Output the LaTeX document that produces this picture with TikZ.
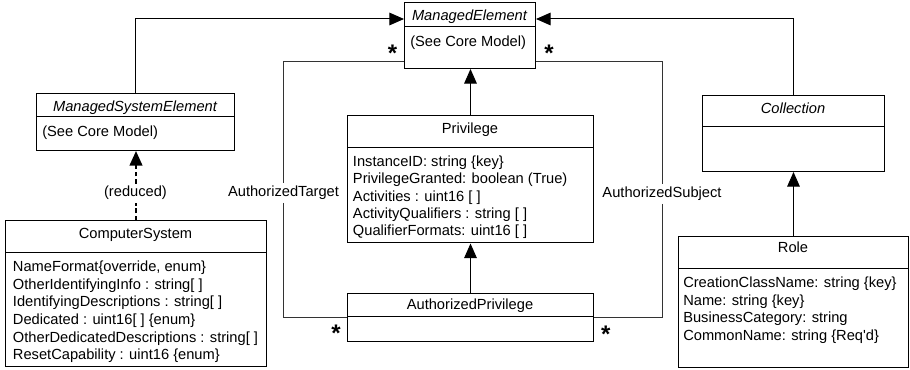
\documentclass[tikz,border=0pt]{standalone}
\usepackage{fontspec}
\setmainfont{Liberation Sans}
\usetikzlibrary{arrows.meta}

% horizontal rule across a class box, #2 pixels below its top edge
\newcommand\clsrule[2]{\draw[line width=0.75pt] ([yshift={-#2*0.75pt}]#1.north west) -- ([yshift={-#2*0.75pt}]#1.north east);}

\begin{document}
\begin{tikzpicture}[x=0.75pt, y=-0.75pt,
  every node/.style={font=\fontsize{11}{13.2}\selectfont},
  cls/.style 2 args={draw, line width=0.75pt, anchor=north west, inner sep=0pt,
    minimum width={#1*0.75pt}, minimum height={#2*0.75pt}},
  ttl/.style={anchor=base, inner sep=0pt},
  ttli/.style={anchor=base, inner sep=0pt, font=\fontsize{11}{13.2}\selectfont\itshape},
  attr/.style={anchor=base west, inner sep=0pt},
  gen/.style={line width=0.75pt, -{Triangle[length=11pt,width=9.5pt]}},
  dep/.style={line width=1.6pt, dash pattern=on 3.5pt off 2pt, -{Triangle[length=11pt,width=9.5pt]}},
  assoc/.style={line width=0.75pt, draw=black!80},
  lbl/.style={anchor=base, fill=white, inner sep=2pt},
  mult/.style={font=\fontsize{18}{18}\selectfont\bfseries, inner sep=0pt, anchor=north}
]
\useasboundingbox (0,0) rectangle (910,370);

% class boxes
\node[cls={131}{66}]  (me)   at (404,2) {};
\node[cls={198}{57}]  (mse)  at (36,93) {};
\node[cls={182}{76}]  (coll) at (702,95) {};
\node[cls={246}{127}] (priv) at (347,115.5) {};
\node[cls={246}{48}]  (ap)   at (347,292.7) {};
\node[cls={261}{145}] (cs)   at (5,220.5) {};
\node[cls={230}{131}] (role) at (678,236) {};

\clsrule{me}{25}
\clsrule{mse}{24}
\clsrule{coll}{32}
\clsrule{priv}{32}
\clsrule{ap}{24}
\clsrule{cs}{32.5}
\clsrule{role}{33}

% class names
\node[ttli] (meT)   at (469.5,21)  {ManagedElement};
\node[ttli] (mseT)  at (135,111.5) {ManagedSystemElement};
\node[ttli] (collT) at (793,114)   {Collection};
\node[ttl]  (privT) at (470,134)   {Privilege};
\node[ttl]  (apT)   at (470,310)   {AuthorizedPrivilege};
\node[ttl]  (csT)   at (135.5,239) {ComputerSystem};
\node[ttl]  (roleT) at (793,253)   {Role};

% attributes
\node[attr] (meA)  at (410,47)    {(See Core Model)};
\node[attr] (mseA) at (42,136.5)  {(See Core Model)};
\foreach \t [count=\i from 0] in {{InstanceID: string \{key\}},
    {PrivilegeGranted: boolean (True)}, {Activities : uint16 [ ]},
    {ActivityQualifiers : string [ ]}, {QualifierFormats: uint16 [ ]}}
  \node[attr] (privA\i) at (352.7,166.7+17.2*\i) {\t};
\foreach \t [count=\i from 0] in {{NameFormat\{override, enum\}},
    {OtherIdentifyingInfo : string[ ]}, {IdentifyingDescriptions : string[ ]},
    {Dedicated : uint16[ ] \{enum\}}, {OtherDedicatedDescriptions : string[ ]},
    {ResetCapability : uint16 \{enum\}}}
  \node[attr] (csA\i) at (12.7,271.7+17.6*\i) {\t};
\foreach \t [count=\i from 0] in {{CreationClassName: string \{key\}},
    {Name: string \{key\}}, {BusinessCategory: string},
    {CommonName: string \{Req\textquotesingle d\}}}
  \node[attr] (roleA\i) at (683,287.7+17.6*\i) {\t};

% inheritance
\draw[gen] (mse.north) |- ([yshift={-17*0.75pt}]me.north west);
\draw[gen] (coll.north) |- ([yshift={-17*0.75pt}]me.north east);
\draw[gen] (priv.north) -- (priv.north |- me.south);
\draw[gen] (ap.north) -- (priv.south);
\draw[gen] (role.north) -- (coll.south);

% dependency
\draw[dep] (cs.north) -- (cs.north |- mse.south);
\node[lbl] (red) at (135.5,197) {(reduced)};

% associations
\node[lbl] (tgt)  at (283.5,197) {AuthorizedTarget};
\node[lbl] (subj) at (662,198)   {AuthorizedSubject};
\draw[assoc] ([yshift={7*0.75pt}]me.south west) -| (tgt.north);
\draw[assoc] (tgt.south) |- (ap.west);
\draw[assoc] ([yshift={7*0.75pt}]me.south east) -| (subj.north);
\draw[assoc] (subj.south) |- (ap.east);

% multiplicities
\node[mult] (m1) at (392.5,44.5) {*};
\node[mult] (m2) at (549,44.5)   {*};
\node[mult] (m3) at (336,324.5)  {*};
\node[mult] (m4) at (605.7,325.5) {*};
\end{tikzpicture}
\end{document}
